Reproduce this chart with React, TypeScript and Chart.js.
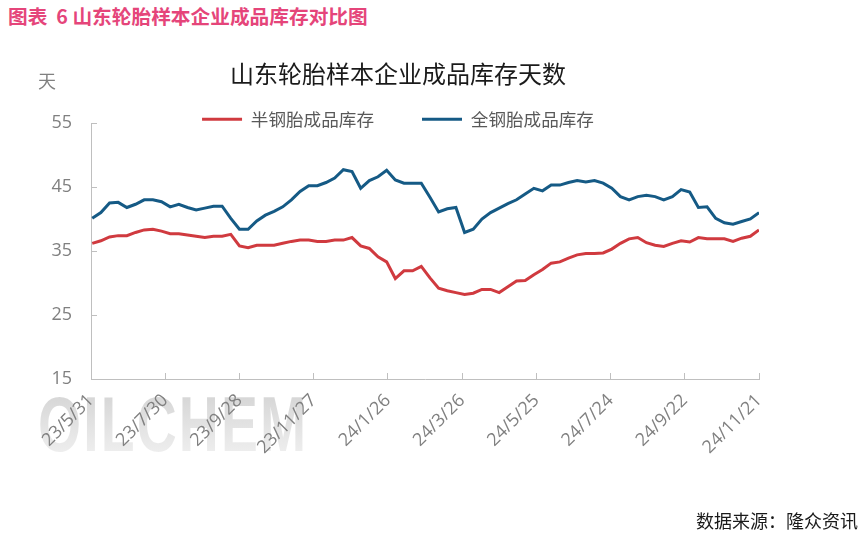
import React, { useEffect, useRef } from 'react';
import { Chart, registerables } from 'chart.js';

Chart.register(...registerables);

// ---- data ----
const AXIS_START_UTC = Date.UTC(2023, 4, 31); // 23/5/31, left end of the x axis
const AXIS_END_DAYS = 540; // 24/11/21
const FIRST_WEEK_UTC = Date.UTC(2023, 5, 1); // weekly (Thursday) observations
const DAY_MS = 86400000;

const seriesNames = ['半钢胎成品库存', '全钢胎成品库存'];

const semiSteel = [
  36.2, 36.6, 37.2, 37.4, 37.4, 37.9, 38.3, 38.4, 38.1, 37.7,
  37.7, 37.5, 37.3, 37.1, 37.3, 37.3, 37.6, 35.8, 35.5, 35.9,
  35.9, 35.9, 36.2, 36.5, 36.7, 36.7, 36.5, 36.5, 36.7, 36.7,
  37.1, 35.8, 35.4, 34.1, 33.3, 30.7, 31.9, 31.9, 32.6, 30.8,
  29.2, 28.8, 28.5, 28.2, 28.4, 29.0, 29.0, 28.5, 29.4, 30.3,
  30.4, 31.3, 32.1, 33.1, 33.3, 33.9, 34.4, 34.6, 34.6, 34.7,
  35.3, 36.2, 36.9, 37.1, 36.3, 35.9, 35.7, 36.2, 36.6, 36.4,
  37.1, 36.9, 36.9, 36.9, 36.5, 37.0, 37.3, 38.3,
];

const allSteel = [
  40.1, 41.0, 42.5, 42.6, 41.8, 42.3, 43.0, 43.0, 42.7, 41.9,
  42.3, 41.8, 41.4, 41.7, 42.0, 42.0, 40.1, 38.4, 38.4, 39.7,
  40.6, 41.2, 41.9, 43.0, 44.3, 45.2, 45.2, 45.7, 46.4, 47.7,
  47.4, 44.8, 46.0, 46.6, 47.6, 46.1, 45.6, 45.6, 45.6, 43.4,
  41.1, 41.6, 41.8, 37.9, 38.4, 40.0, 41.0, 41.7, 42.4, 43.0,
  43.9, 44.8, 44.4, 45.3, 45.3, 45.7, 46.0, 45.8, 46.0, 45.6,
  44.8, 43.5, 43.0, 43.5, 43.7, 43.5, 43.0, 43.5, 44.6, 44.2,
  41.8, 41.9, 40.1, 39.4, 39.2, 39.6, 40.0, 41.0,
];

const weekDates: number[] = semiSteel.map((_, i) => FIRST_WEEK_UTC + i * 7 * DAY_MS);

const yMin = 15;
const yMax = 55;
const yStep = 10;
const xTickStepDays = 60;

const RED = '#d03a3f';
const BLUE = '#155a85';

const toDayOffset = (t: number) => Math.round((t - AXIS_START_UTC) / DAY_MS);
const fmtDate = (days: number) => {
  const d = new Date(AXIS_START_UTC + days * DAY_MS);
  return `${d.getUTCFullYear() % 100}/${d.getUTCMonth() + 1}/${d.getUTCDate()}`;
};

const LEGEND_PAD = 48;
const legendPlacer = {
  id: 'legendPlacer',
  afterLayout(chart: any) {
    const lg = chart.legend;
    if (!lg) return;
    // legend occupies only 1px in the layout; place its drawing box so the row sits at y≈120
    lg.left = 0;
    lg.right = chart.width;
    lg.width = chart.width;
    lg.top = 110.5 - LEGEND_PAD;
    lg.bottom = lg.top + LEGEND_PAD * 2 + 30;
  },
};

export default function App() {
  const ref = useRef<HTMLCanvasElement>(null);

  useEffect(() => {
    const canvas = ref.current;
    if (!canvas) return;
    const tickFont = { family: '"Open Sans", "DejaVu Sans", sans-serif', size: 18 };
    const chart = new Chart(canvas, {
      type: 'line',
      data: {
        datasets: [
          {
            label: seriesNames[0],
            data: semiSteel.map((v, i) => ({ x: toDayOffset(weekDates[i]), y: v })),
            borderColor: RED,
            backgroundColor: RED,
            borderWidth: 3,
            pointRadius: 0,
            tension: 0,
            fill: false,
          },
          {
            label: seriesNames[1],
            data: allSteel.map((v, i) => ({ x: toDayOffset(weekDates[i]), y: v })),
            borderColor: BLUE,
            backgroundColor: BLUE,
            borderWidth: 3,
            pointRadius: 0,
            tension: 0,
            fill: false,
          },
        ],
      },
      options: {
        responsive: false,
        animation: false,
        events: [],
        layout: { padding: { left: 37, right: 37, top: 0, bottom: 0 } },
        plugins: {
          title: {
            display: true,
            text: '山东轮胎样本企业成品库存天数',
            color: '#1a1a1a',
            font: { family: '"Noto Sans CJK SC", sans-serif', size: 24, weight: 'normal' },
            padding: { top: 59, bottom: 34.2 },
          },
          legend: {
            display: true,
            position: 'top',
            align: 'center',
            maxHeight: 1,
            labels: {
              usePointStyle: true,
              pointStyle: 'line',
              pointStyleWidth: 40,
              padding: LEGEND_PAD,
              color: '#595959',
              font: { family: '"Noto Sans CJK SC", sans-serif', size: 17.6 },
            },
          },
          tooltip: { enabled: false },
        },
        scales: {
          x: {
            type: 'linear',
            min: 0,
            max: AXIS_END_DAYS,
            afterFit: (s: any) => {
              s.height = 157;
            },
            ticks: {
              stepSize: xTickStepDays,
              autoSkip: false,
              minRotation: 45,
              maxRotation: 45,
              padding: 17,
              color: '#808080',
              font: tickFont,
              callback: (v: any) => fmtDate(Number(v)),
            },
            grid: {
              drawOnChartArea: false,
              drawTicks: true,
              tickLength: -6,
              color: '#bfbfbf',
            },
            border: { display: true, color: '#bfbfbf', width: 1 },
          },
          y: {
            min: yMin,
            max: yMax,
            afterFit: (s: any) => {
              s.width = 54;
            },
            ticks: {
              stepSize: yStep,
              padding: 25,
              color: '#808080',
              font: tickFont,
            },
            grid: {
              drawOnChartArea: false,
              drawTicks: true,
              tickLength: -6,
              color: '#bfbfbf',
            },
            border: { display: true, color: '#bfbfbf', width: 1 },
          },
        },
      },
      plugins: [legendPlacer],
    } as any);
    return () => chart.destroy();
  }, []);

  return (
    <div
      style={{
        position: 'absolute',
        left: 0,
        top: 0,
        width: 864,
        height: 536,
        background: '#ffffff',
        overflow: 'hidden',
      }}
    >
      <div
        style={{
          position: 'absolute',
          left: 8,
          top: 5,
          fontFamily: '"Noto Sans CJK SC", sans-serif',
          fontWeight: 'bold',
          fontSize: 19.7,
          lineHeight: '21px',
          color: '#e5457a',
          whiteSpace: 'pre',
        }}
      >
        {'图表  6 山东轮胎样本企业成品库存对比图'}
      </div>
      <div
        style={{
          position: 'absolute',
          left: 38,
          top: 385,
          fontFamily: '"Liberation Sans", Arial, sans-serif',
          fontWeight: 'bold',
          fontSize: 78,
          lineHeight: '78px',
          letterSpacing: 3,
          transform: 'scaleX(0.71)',
          transformOrigin: 'left top',
          background: 'linear-gradient(#d2d2d2, #f2f2f2)',
          WebkitBackgroundClip: 'text',
          backgroundClip: 'text',
          color: 'transparent',
          whiteSpace: 'pre',
        }}
      >
        OILCHEM
      </div>
      <canvas
        ref={ref}
        width={796}
        height={536}
        style={{ position: 'absolute', left: 0, top: 0, width: 796, height: 536 }}
      />
      <div
        style={{
          position: 'absolute',
          left: 38,
          top: 70,
          fontFamily: '"Noto Sans CJK SC", sans-serif',
          fontSize: 18,
          lineHeight: '20px',
          color: '#808080',
        }}
      >
        天
      </div>
      <div
        style={{
          position: 'absolute',
          right: 6,
          top: 510,
          fontFamily: '"Noto Sans CJK SC", sans-serif',
          fontSize: 18,
          lineHeight: '20px',
          color: '#1a1a1a',
          whiteSpace: 'pre',
        }}
      >
        数据来源：隆众资讯
      </div>
    </div>
  );
}
